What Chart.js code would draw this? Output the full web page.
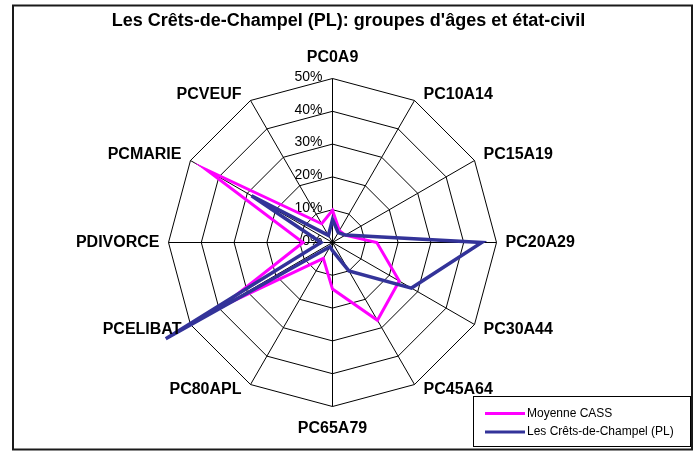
<!DOCTYPE html>
<html>
<head>
<meta charset="utf-8">
<script src="https://cdn.jsdelivr.net/npm/chart.js@4/dist/chart.umd.min.js"></script>
<style>
    html, body { margin: 0; padding: 0; background: #fff; }
    canvas { display: block; }
</style>
</head>
<body>
<canvas id="radarChart" width="697" height="451"></canvas>
<script>
// Données (en %)
const categories = ['PC0A9', 'PC10A14', 'PC15A19', 'PC20A29', 'PC30A44', 'PC45A64',
    'PC65A79', 'PC80APL', 'PCELIBAT', 'PDIVORCE', 'PCMARIE', 'PCVEUF'];
const moyenneCass = [9.8, 4.2, 4.5, 13.5, 23.5, 27.4, 14.2, 5.6, 39, 9, 44.4, 6.6];
const cretsChampel = [7, 3.5, 4.5, 45.5, 27.8, 10, 2.5, 1.5, 58.7, 3.5, 28.5, 2.5];
const tickValues = [0, 10, 20, 30, 40, 50];

const FONT = '"Liberation Sans", Arial, sans-serif';

// Cadre extérieur + fond blanc
const framePlugin = {
    id: 'frame',
    beforeDraw(chart) {
        const ctx = chart.ctx;
        ctx.save();
        ctx.fillStyle = '#fff';
        ctx.fillRect(0, 0, chart.width, chart.height);
        ctx.strokeStyle = '#1a1a1a';
        ctx.lineWidth = 2;
        ctx.strokeRect(13, 5.5, 679, 444);
        ctx.restore();
    }
};

// Étiquettes des graduations (à gauche de l'axe vertical)
const tickTextPlugin = {
    id: 'tickText',
    beforeDatasetsDraw(chart) {
        const r = chart.scales.r;
        const ctx = chart.ctx;
        ctx.save();
        ctx.fillStyle = '#000';
        ctx.font = '14px ' + FONT;
        ctx.textAlign = 'right';
        ctx.textBaseline = 'middle';
        tickValues.forEach(v => {
            const y = r.yCenter - r.getDistanceFromCenterForValue(v) - 1.5;
            ctx.fillText(v + '%', r.xCenter - 10, y);
        });
        ctx.restore();
    }
};

// Libellés des axes, placés comme dans Excel
const axisLabelPlugin = {
    id: 'axisLabels',
    afterDatasetsDraw(chart) {
        const r = chart.scales.r;
        const ctx = chart.ctx;
        const n = chart.data.labels.length;
        ctx.save();
        ctx.fillStyle = '#000';
        ctx.font = 'bold 16px ' + FONT;
        ctx.textBaseline = 'middle';
        chart.data.labels.forEach((lab, i) => {
            const p = r.getPointPosition(i, r.drawingArea);
            const deg = i * 360 / n;
            const cos = Math.cos(deg * Math.PI / 180);
            let x = p.x;
            let y = p.y;
            let dy = 0;
            if (cos > 0.01) dy = -6;
            if (cos < -0.01) dy = 5;
            if (deg === 0) {
                ctx.textAlign = 'center';
                y -= 21;
            } else if (deg === 180) {
                ctx.textAlign = 'center';
                y += 22;
            } else if (deg < 180) {
                ctx.textAlign = 'left';
                x += 9;
                y += dy;
            } else {
                ctx.textAlign = 'right';
                x -= 9;
                y += dy;
            }
            ctx.fillText(lab, x, y);
        });
        ctx.restore();
    }
};

// Légende encadrée en bas à droite
const legendBoxPlugin = {
    id: 'legendBox',
    afterDraw(chart) {
        const ctx = chart.ctx;
        const box = { x: 473.5, y: 396.5, w: 217, h: 50 };
        ctx.save();
        ctx.strokeStyle = '#000';
        ctx.lineWidth = 1;
        ctx.strokeRect(box.x, box.y, box.w, box.h);
        ctx.font = '12px ' + FONT;
        ctx.textAlign = 'left';
        ctx.textBaseline = 'middle';
        chart.data.datasets.forEach((ds, i) => {
            const y = 413.5 + i * 18.5;
            ctx.strokeStyle = ds.borderColor;
            ctx.lineWidth = 3;
            ctx.beginPath();
            ctx.moveTo(485, y);
            ctx.lineTo(525, y);
            ctx.stroke();
            ctx.fillStyle = '#000';
            ctx.fillText(ds.label, 527, y);
        });
        ctx.restore();
    }
};

new Chart(document.getElementById('radarChart'), {
    type: 'radar',
    data: {
        labels: categories,
        datasets: [
            {
                label: 'Moyenne CASS',
                data: moyenneCass,
                borderColor: '#FF00FF',
                borderWidth: 3,
                pointRadius: 0,
                fill: false,
                tension: 0,
                order: 1
            },
            {
                label: 'Les Crêts-de-Champel (PL)',
                data: cretsChampel,
                borderColor: '#333399',
                borderWidth: 3.5,
                pointRadius: 0,
                fill: false,
                tension: 0,
                order: 0
            }
        ]
    },
    options: {
        responsive: false,
        animation: false,
        events: [],
        layout: { padding: 0 },
        scales: {
            r: {
                min: 0,
                max: 50,
                beginAtZero: true,
                ticks: { display: false, stepSize: 10 },
                pointLabels: { display: false },
                grid: { color: '#000', lineWidth: 1, circular: false },
                angleLines: { color: '#000', lineWidth: 1 },
                // Géométrie fixée pour coller au modèle
                afterFit(scale) {
                    scale.xCenter = 332.5;
                    scale.yCenter = 242.5;
                    scale.drawingArea = 164;
                }
            }
        },
        plugins: {
            legend: { display: false },
            tooltip: { enabled: false },
            title: {
                display: true,
                text: "Les Crêts-de-Champel (PL): groupes d'âges et état-civil",
                color: '#000',
                font: { family: FONT, size: 18, weight: 'bold' },
                padding: { top: 10, bottom: 6 }
            }
        }
    },
    plugins: [framePlugin, tickTextPlugin, axisLabelPlugin, legendBoxPlugin]
});
</script>
</body>
</html>
